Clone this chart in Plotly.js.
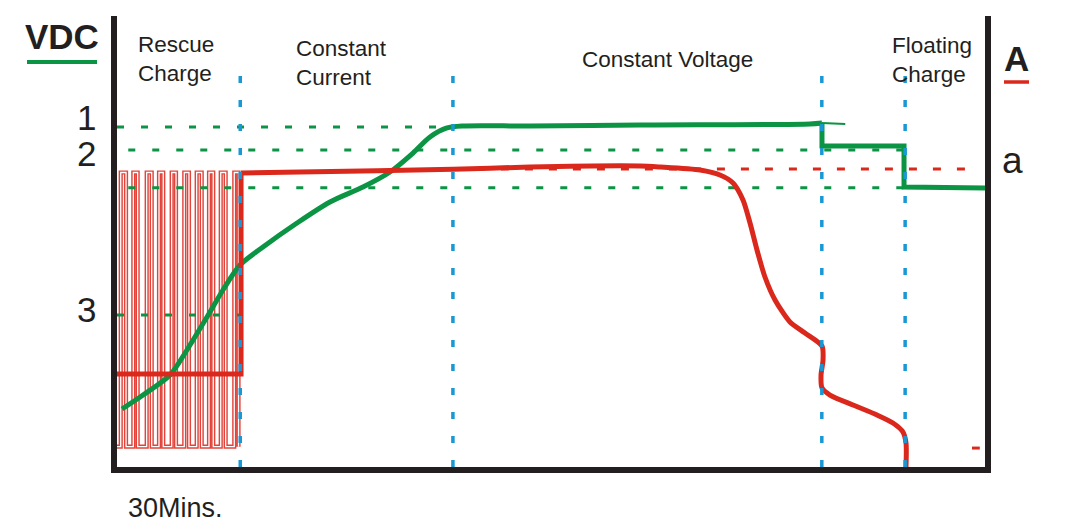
<!DOCTYPE html>
<html>
<head>
<meta charset="utf-8">
<script src="https://cdn.plot.ly/plotly-3.0.1.min.js"></script>
<style>
html,body{margin:0;padding:0;background:#fff;}
#chart{width:1073px;height:527px;}
</style>
</head>
<body>
<div id="chart"></div>
<script>
// ---------- data (x: time units 0-100, y: level units 0-100) ----------
const phaseNames = ["Rescue<br>Charge", "Constant<br>Current", "Constant Voltage", "Floating<br>Charge"];
const phaseX = [14.2, 38.7, 81.2, 90.8];          // phase boundaries (blue dotted)
const phaseTop = 90;

const voltLevelY = [75.4, 70.3, 61.9, 33.7];       // green dashed reference levels
const voltLevelStart = [0, 1.3, 1.3, 0];
const voltLevelEnd = [38.4, 90.8, 90.8, 14.2];
const voltLabels = ["1", "2", "3"];
const voltLabelY = [77.6, 69.6, 35.0];

const currLevelY = [66.1, 4.2];                    // red dashed reference levels
const currLevelStart = [38.7, 98.5];
const currLevelEnd = [99.1, 99.4];
const currLabels = ["a"];
const currLabelY = [67.9];

// charging voltage (green): smooth ramp, then float steps
const voltRampX = [0.58, 3.0, 6.11, 8.06, 10.37, 12.21, 14.17, 16.82, 20.74, 24.54, 28.34, 31.45, 34.1, 36.06, 38.02, 39.86, 47.58, 60.25, 79.84, 81.22];
const voltRampY = [12.86, 15.96, 20.4, 25.94, 33.26, 39.25, 44.79, 48.78, 54.1, 58.76, 62.08, 65.41, 69.62, 73.17, 75.17, 75.61, 75.61, 75.83, 76.05, 76.27];
const voltStepX = [81.22, 81.22, 90.67, 90.67, 100];
const voltStepY = [76.27, 71.18, 71.18, 62.08, 61.86];
const voltTipX = [81.22, 83.9];
const voltTipY = [76.27, 76.05];

// charging current (red): rescue level, then CC / CV / float
const currRescueX = [0, 14.29, 14.29];
const currRescueY = [20.62, 20.62, 65.19];
const currMainX = [14.29, 21.08, 38.71, 47.58, 60.25, 62.56, 67.17, 69.47, 70.97, 72.12, 72.93, 73.73, 74.65, 75.81, 77.53, 79.26, 81.22, 81.34, 81.11, 81.22, 82.14, 84.79, 87.56, 89.4, 90.55, 90.9, 90.9];
const currMainY = [65.19, 65.41, 66.0, 66.52, 66.74, 66.52, 65.85, 64.75, 62.97, 59.2, 54.1, 48.12, 42.13, 37.03, 32.15, 29.71, 26.83, 23.73, 20.4, 17.52, 15.96, 13.75, 11.53, 9.76, 7.76, 5.32, 0];

// rescue-charge pulses
const pulseRise = [0.43, 1.88, 3.42, 4.84, 6.30, 7.75, 9.18, 10.6, 11.95, 13.51];
const pulseFall = [1.04, 2.38, 4.0, 5.33, 6.8, 8.29, 9.76, 11.09, 12.52, 14.0];
const pulseHigh = 65.3;
const pulseLow = 4.5;

const bottomLabel = "30Mins.";
const leftTitle = "VDC";
const rightTitle = "A";

// ---------- styles ----------
const GREEN = "#0b9444", RED = "#da291c", PRED = "#e2443b", BLUE = "#1899d6", INK = "#231f20";
const FONT = "Liberation Sans, Arial, sans-serif";

const traces = [];

// pulses: build square wave
const px = [0], py = [pulseLow];
for (let i = 0; i < pulseRise.length; i++) {
  px.push(pulseRise[i], pulseRise[i], pulseFall[i], pulseFall[i]);
  py.push(pulseLow, pulseHigh, pulseHigh, pulseLow);
  if (i < pulseRise.length - 1) { px.push(pulseRise[i + 1]); py.push(pulseLow); }
}
traces.push({x: px, y: py, mode: "lines", line: {color: PRED, width: 4.2}, hoverinfo: "skip"});
traces.push({x: px, y: py, mode: "lines", line: {color: "#ffffff", width: 1.3}, hoverinfo: "skip"});

// reference levels
voltLevelY.forEach((v, i) => traces.push({
  x: [voltLevelStart[i], voltLevelEnd[i]], y: [v, v], mode: "lines",
  line: {color: GREEN, width: 3, dash: "7px,17px"}, hoverinfo: "skip"}));
currLevelY.forEach((v, i) => traces.push({
  x: [currLevelStart[i], currLevelEnd[i]], y: [v, v], mode: "lines",
  line: {color: RED, width: 3, dash: "8px,16px"}, hoverinfo: "skip"}));

// main curves
traces.push({x: voltTipX, y: voltTipY, mode: "lines", line: {color: GREEN, width: 2}, hoverinfo: "skip"});
traces.push({x: voltRampX, y: voltRampY, mode: "lines", line: {color: GREEN, width: 5, shape: "spline", smoothing: 0.8}, hoverinfo: "skip"});
traces.push({x: voltStepX, y: voltStepY, mode: "lines", line: {color: GREEN, width: 5}, hoverinfo: "skip"});
traces.push({x: currRescueX, y: currRescueY, mode: "lines", line: {color: RED, width: 5}, hoverinfo: "skip"});
traces.push({x: currMainX, y: currMainY, mode: "lines", line: {color: RED, width: 5, shape: "spline", smoothing: 0.7}, hoverinfo: "skip"});

// phase boundaries
phaseX.forEach(v => traces.push({
  x: [v, v], y: [0, phaseTop], mode: "lines",
  line: {color: BLUE, width: 3.5, dash: "7px,17px"}, hoverinfo: "skip"}));

// ---------- annotations ----------
const L = 117, R = 985, T = 16, B = 467;
const pxX = p => (p - L) / (R - L);
const pxY = p => (B - p) / (B - T);

const ann = [];
const phaseLabelPos = [[136, 59], [294, 63], [580, 60], [890, 60.5]];
phaseNames.forEach((t, i) => ann.push({
  text: t, xref: "paper", yref: "paper", x: pxX(phaseLabelPos[i][0]), y: pxY(phaseLabelPos[i][1]),
  xanchor: "left", yanchor: "middle", align: "left", showarrow: false,
  font: {family: FONT, size: 22.5, color: INK}}));
voltLabels.forEach((t, i) => ann.push({
  text: t, xref: "paper", yref: "y", x: pxX(98), y: voltLabelY[i],
  xanchor: "right", yanchor: "middle", showarrow: false,
  font: {family: FONT, size: 35, color: INK}}));
currLabels.forEach((t, i) => ann.push({
  text: t, xref: "paper", yref: "y", x: pxX(1000), y: currLabelY[i],
  xanchor: "left", yanchor: "middle", showarrow: false,
  font: {family: FONT, size: 37, color: INK}}));
ann.push({text: "<b>" + leftTitle + "</b>", xref: "paper", yref: "paper", x: pxX(62.5), y: pxY(37),
  xanchor: "center", yanchor: "middle", showarrow: false, font: {family: FONT, size: 35, color: INK}});
ann.push({text: "<b>" + rightTitle + "</b>", xref: "paper", yref: "paper", x: pxX(1016.5), y: pxY(58.5),
  xanchor: "center", yanchor: "middle", showarrow: false, font: {family: FONT, size: 35, color: INK}});
ann.push({text: bottomLabel, xref: "paper", yref: "paper", x: pxX(175), y: pxY(508),
  xanchor: "center", yanchor: "middle", showarrow: false, font: {family: FONT, size: 27, color: INK}});

const shapes = [
  {type: "line", xref: "paper", yref: "paper", x0: pxX(27), x1: pxX(97), y0: pxY(62), y1: pxY(62), line: {color: GREEN, width: 4}},
  {type: "line", xref: "paper", yref: "paper", x0: pxX(1004), x1: pxX(1029), y0: pxY(82), y1: pxY(82), line: {color: RED, width: 3.5}}
];

const axisBase = {range: [0, 100], showgrid: false, zeroline: false, showticklabels: false, ticks: "",
  showline: true, linecolor: INK, linewidth: 6, fixedrange: true};

const layout = {
  width: 1073, height: 527,
  margin: {l: L, r: 1073 - R, t: T, b: 527 - B, pad: 0},
  paper_bgcolor: "#ffffff", plot_bgcolor: "#ffffff",
  showlegend: false,
  xaxis: Object.assign({}, axisBase),
  yaxis: Object.assign({}, axisBase, {mirror: true}),
  annotations: ann,
  shapes: shapes
};

Plotly.newPlot("chart", traces, layout, {staticPlot: true, displayModeBar: false});
</script>
</body>
</html>
